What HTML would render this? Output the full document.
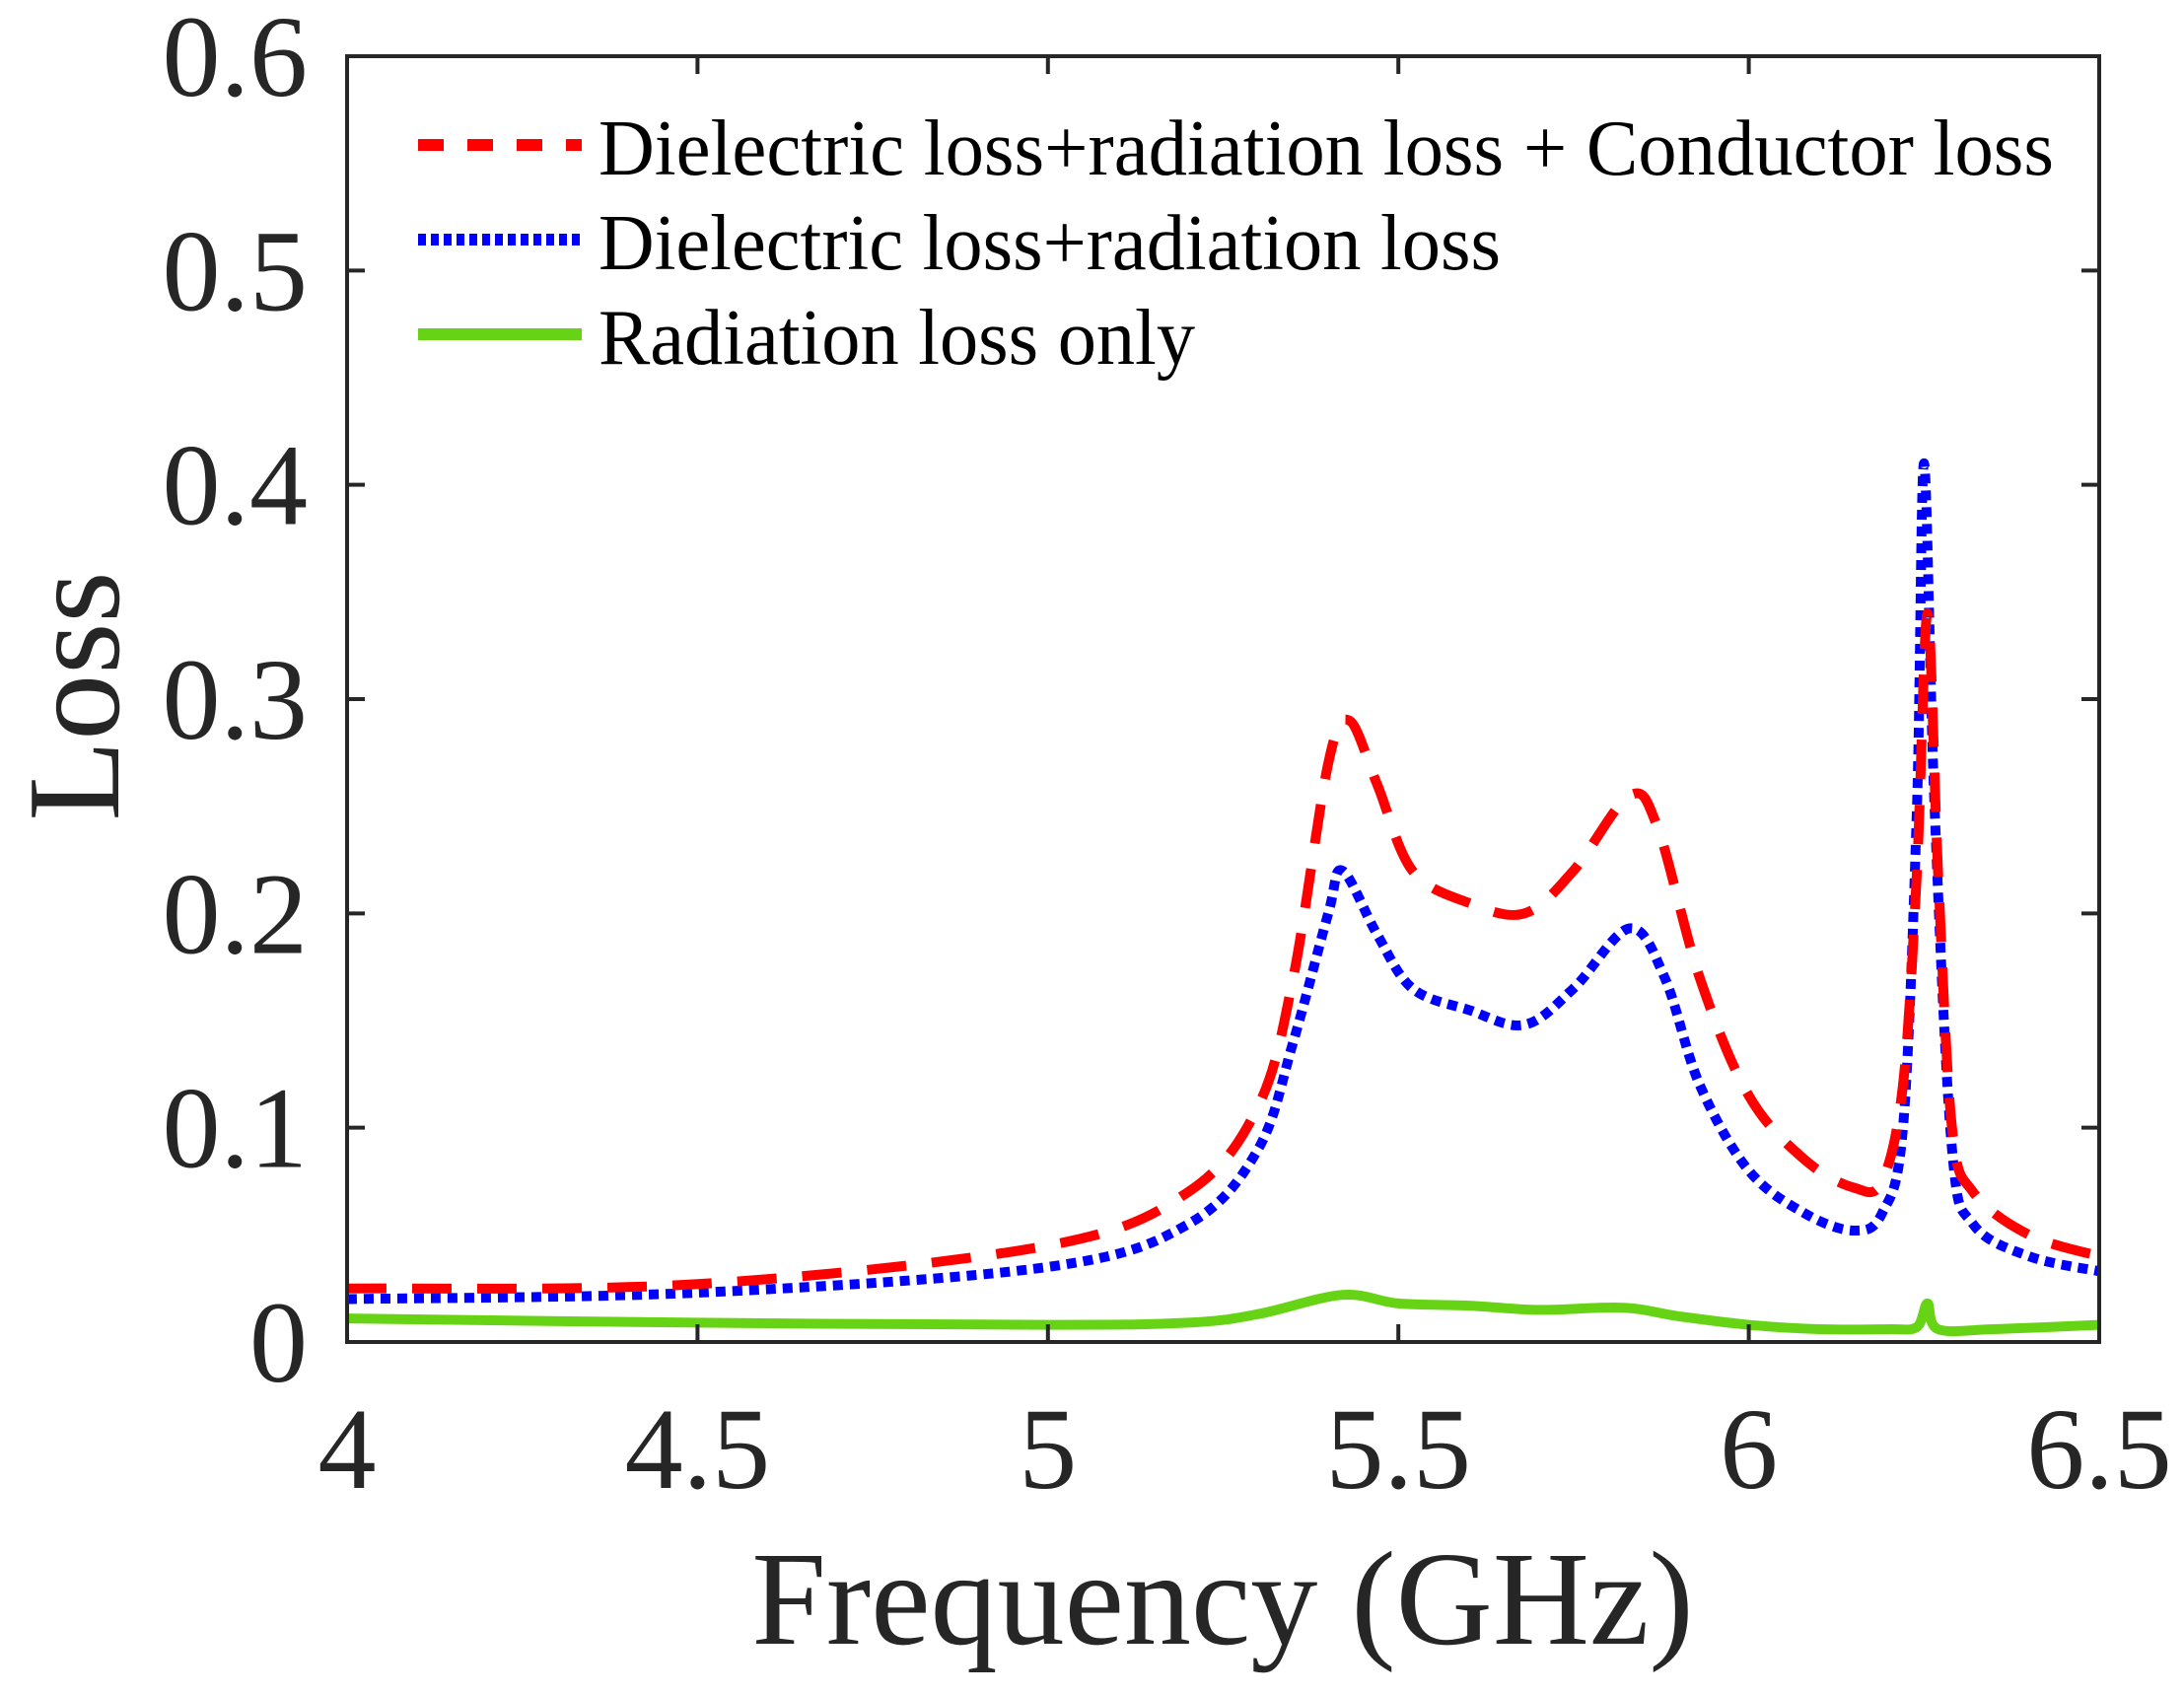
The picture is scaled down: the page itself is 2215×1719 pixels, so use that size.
<!DOCTYPE html>
<html><head><meta charset="utf-8"><style>
html,body{margin:0;padding:0;background:#fff;}
svg{display:block;font-family:"Liberation Serif",serif;}
</style></head><body>
<svg id="chart" width="2215" height="1719" viewBox="0 0 2215 1719" xmlns="http://www.w3.org/2000/svg">
<rect x="0" y="0" width="2215" height="1719" fill="#fff"/>
<g id="series"></g>
<g id="axes"></g>
<g id="legend"></g>
</svg>
<script>
const xTicks=[4,4.5,5,5.5,6,6.5];
const xTickLabels=["4","4.5","5","5.5","6","6.5"];
const yTicks=[0,0.1,0.2,0.3,0.4,0.5,0.6];
const yTickLabels=["0","0.1","0.2","0.3","0.4","0.5","0.6"];
const redX=[4,4.5,5,5.2,5.3,5.35,5.4,5.43,5.47,5.52,5.6,5.68,5.75,5.83,5.87,5.93,6.0,6.08,6.15,6.19,6.22,6.24,6.255,6.27,6.29,6.32,6.4,6.5];
const redY=[0.025,0.027,0.045,0.07,0.11,0.17,0.27,0.29,0.26,0.22,0.205,0.2,0.22,0.255,0.24,0.17,0.115,0.085,0.072,0.075,0.12,0.22,0.34,0.22,0.1,0.07,0.05,0.04];
const blueX=[4,4.5,5,5.2,5.3,5.35,5.4,5.42,5.47,5.52,5.6,5.68,5.75,5.83,5.88,5.93,6.0,6.08,6.15,6.19,6.22,6.24,6.25,6.265,6.29,6.32,6.4,6.5];
const blueY=[0.02,0.023,0.035,0.055,0.09,0.14,0.2,0.22,0.19,0.165,0.155,0.148,0.165,0.193,0.17,0.12,0.08,0.06,0.052,0.06,0.1,0.25,0.41,0.25,0.09,0.055,0.04,0.033];
const greenX=[4,4.5,5,5.2,5.3,5.42,5.5,5.6,5.7,5.82,5.9,6.0,6.1,6.2,6.24,6.255,6.27,6.35,6.5];
const greenY=[0.011,0.009,0.008,0.009,0.013,0.022,0.018,0.017,0.015,0.016,0.012,0.008,0.006,0.006,0.007,0.018,0.006,0.006,0.008];
const legendLabels=["Dielectric loss+radiation loss + Conductor loss","Dielectric loss+radiation loss","Radiation loss only"];

const NS="http://www.w3.org/2000/svg";
const L=352,R=2129,T=57,B=1361;
const xs=v=>L+(v-4)/2.5*(R-L);
const ys=v=>B-v/0.6*(B-T);
function mk(tag,attrs,parent){const e=document.createElementNS(NS,tag);for(const k in attrs)e.setAttribute(k,attrs[k]);parent.appendChild(e);return e;}
function pathFor(X,Y){
  const p=X.map((x,i)=>[xs(x),ys(Y[i])]);
  let d="M"+p[0][0].toFixed(1)+","+p[0][1].toFixed(1);
  for(let i=0;i<p.length-1;i++){
    const p0=p[i-1]||p[i],p1=p[i],p2=p[i+1],p3=p[i+2]||p2;
    const c1=[p1[0]+(p2[0]-p0[0])/6,p1[1]+(p2[1]-p0[1])/6];
    const c2=[p2[0]-(p3[0]-p1[0])/6,p2[1]-(p3[1]-p1[1])/6];
    d+=" C"+c1[0].toFixed(1)+","+c1[1].toFixed(1)+" "+c2[0].toFixed(1)+","+c2[1].toFixed(1)+" "+p2[0].toFixed(1)+","+p2[1].toFixed(1);
  }
  return d;
}
const sg=document.getElementById('series');
const clip=mk('clipPath',{id:'pc'},sg);mk('rect',{x:L,y:T,width:R-L,height:B-T},clip);
const g2=mk('g',{'clip-path':'url(#pc)'},sg);
const gp=mk('path',{d:pathFor(greenX,greenY),fill:'none',stroke:'#66d414','stroke-width':10},g2);


const bp=mk('path',{d:pathFor(blueX,blueY),fill:'none',stroke:'#0000ff','stroke-width':10,'stroke-dasharray':'10 7'},g2);


const rp=mk('path',{d:pathFor(redX,redY),fill:'none',stroke:'#ff0000','stroke-width':10,'stroke-dasharray':'40 26'},g2);



const ax=document.getElementById('axes');
const frame=mk('rect',{x:L,y:T,width:R-L,height:B-T,fill:'none',stroke:'#262626','stroke-width':4},ax);


xTicks.forEach((v,i)=>{
  const x=xs(v);
  mk('line',{x1:x,y1:B,x2:x,y2:B-18,stroke:'#262626','stroke-width':4},ax);
  mk('line',{x1:x,y1:T,x2:x,y2:T+18,stroke:'#262626','stroke-width':4},ax);
  const t=mk('text',{x:x,y:1509,'font-size':118,'text-anchor':'middle',fill:'#262626'},ax);
  t.textContent=xTickLabels[i];
  
  
});
yTicks.forEach((v,i)=>{
  const y=ys(v);
  mk('line',{x1:L,y1:y,x2:L+18,y2:y,stroke:'#262626','stroke-width':4},ax);
  mk('line',{x1:R,y1:y,x2:R-18,y2:y,stroke:'#262626','stroke-width':4},ax);
  const t=mk('text',{x:312,y:y+40,'font-size':118,'text-anchor':'end',fill:'#262626'},ax);
  t.textContent=yTickLabels[i];
  
  
});
const xt=mk('text',{x:1240,y:1667,'font-size':136,'text-anchor':'middle',fill:'#262626'},ax);
xt.textContent="Frequency (GHz)";


const yt=mk('text',{x:0,y:0,'font-size':134,'text-anchor':'middle',fill:'#262626',transform:'translate(120,706) rotate(-90)'},ax);
yt.textContent="Loss";



const lg=document.getElementById('legend');
const styles=[['#ff0000','26 24'],['#0000ff','8 5'],['#66d414','']];
const rows=[153,249,345];
const widths=[1476,915,605];
legendLabels.forEach((lab,i)=>{
  const g=mk('g',{},lg);
  
  
  const a={x1:424,y1:rows[i]-6,x2:590,y2:rows[i]-6,stroke:styles[i][0],'stroke-width':12};
  if(styles[i][1])a['stroke-dasharray']=styles[i][1];
  mk('line',a,g);
  const t=mk('text',{x:607,y:rows[i]+24,'font-size':80,fill:'#000',textLength:widths[i],lengthAdjust:'spacingAndGlyphs'},g);
  t.textContent=lab;
});
</script>
</body></html>
